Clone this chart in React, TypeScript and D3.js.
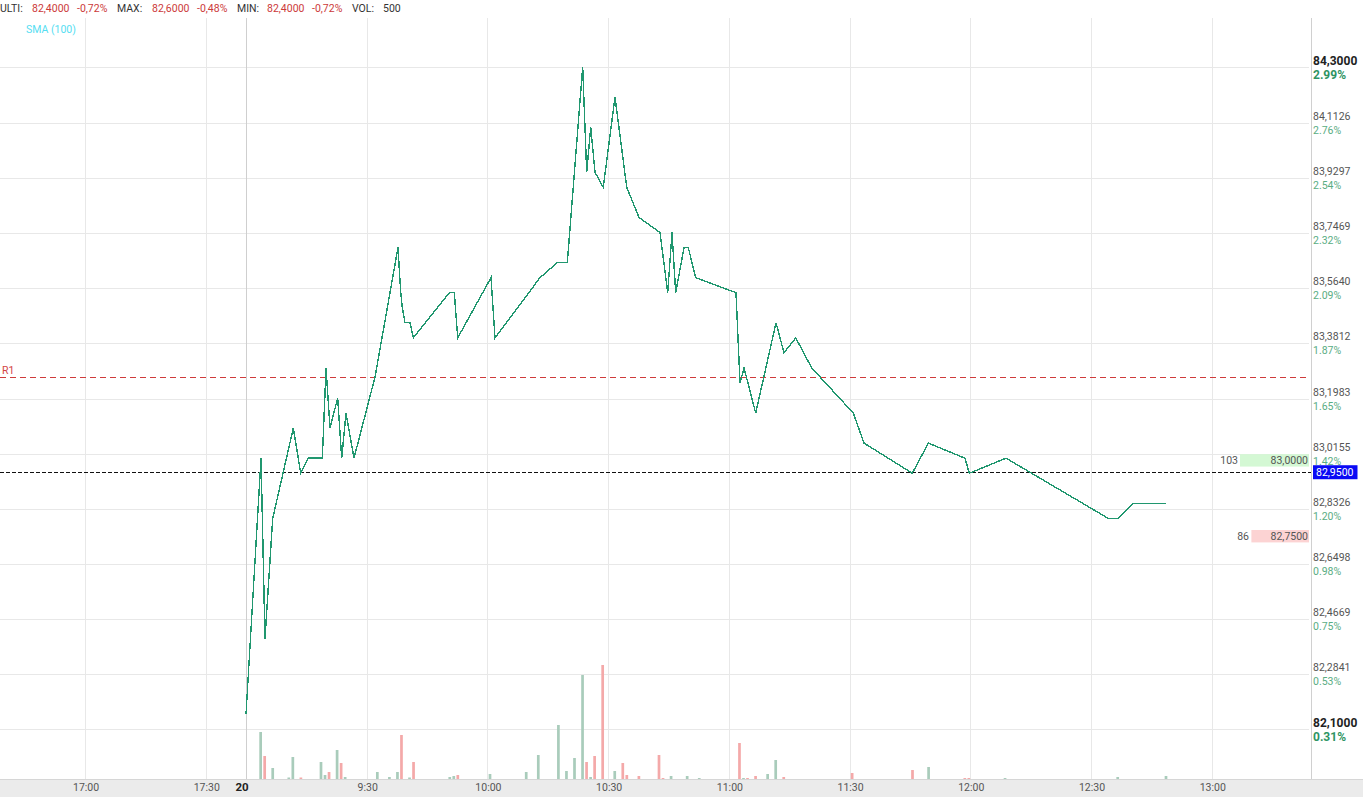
import React, { useEffect } from 'react';
import * as d3 from 'd3';

// ---------- data ----------
const priceTimes = [
  '9:00:00', '9:03:44', '9:04:43', '9:06:38', '9:11:45', '9:13:36', '9:15:29', '9:18:58', '9:19:53', '9:20:52',
  '9:22:47', '9:23:47', '9:24:51', '9:26:50', '9:32:04', '9:37:46', '9:38:27', '9:38:51', '9:39:31', '9:40:45',
  '9:41:35', '9:50:31', '9:51:46', '9:52:37', '10:00:53', '10:01:53', '10:13:04', '10:17:22', '10:19:51', '10:23:40',
  '10:24:40', '10:25:40', '10:26:44', '10:28:47', '10:31:42', '10:34:37', '10:37:40', '10:42:53', '10:44:48', '10:45:52',
  '10:46:47', '10:48:51', '10:49:55', '10:51:45', '11:01:46', '11:02:46', '11:03:46', '11:06:40', '11:11:43', '11:13:42',
  '11:16:37', '11:20:35', '11:30:55', '11:33:35', '11:45:35', '11:49:34', '11:58:41', '11:59:45', '12:08:52', '12:34:17',
  '12:36:46', '12:40:30', '12:48:38',
];
const priceValues = [
  82.15, 83.0, 82.4, 82.8, 83.1, 82.95, 83.0, 83.0, 83.3, 83.1,
  83.2, 83.0, 83.15, 83.0, 83.27, 83.7, 83.55, 83.5, 83.45, 83.45,
  83.4, 83.55, 83.55, 83.4, 83.6, 83.4, 83.6, 83.65, 83.65, 84.3,
  83.95, 84.1, 83.95, 83.9, 84.2, 83.9, 83.8, 83.75, 83.55, 83.75,
  83.55, 83.7, 83.7, 83.6, 83.55, 83.25, 83.3, 83.15, 83.45, 83.35,
  83.4, 83.3, 83.15, 83.05, 82.95, 83.05, 83.0, 82.95, 83.0, 82.8,
  82.8, 82.85, 82.85,
];

const volTimes = [
  '9:03', '9:04', '9:06', '9:10', '9:11', '9:13', '9:18', '9:19', '9:20', '9:22',
  '9:23', '9:24', '9:32', '9:35', '9:37', '9:38', '9:40', '9:41', '9:50', '9:51',
  '9:52', '10:00', '10:09', '10:12', '10:17', '10:19', '10:21', '10:23', '10:24', '10:25',
  '10:26', '10:28', '10:31', '10:33', '10:34', '10:37', '10:42', '10:43', '10:45', '10:49',
  '10:52', '11:02', '11:03', '11:04', '11:06', '11:09', '11:11', '11:13', '11:30', '11:45',
  '11:49', '11:58', '11:59', '12:08', '12:36', '12:48',
];
const volValues = [
  4700, 2300, 1100, 150, 2200, 150, 1700, 400, 700, 2900,
  1600, 200, 700, 200, 700, 4400, 150, 1700, 200, 300,
  400, 500, 700, 2400, 5400, 800, 2100, 10400, 1700, 200,
  2300, 11400, 800, 1600, 400, 300, 2400, 100, 300, 300,
  100, 3600, 100, 100, 300, 500, 1900, 200, 600, 900,
  1200, 100, 100, 100, 200, 300,
];
const volUp = [
  1, 0, 1, 1, 1, 0, 1, 1, 0, 1,
  0, 1, 1, 1, 1, 0, 1, 0, 1, 1,
  0, 1, 1, 1, 1, 1, 1, 1, 0, 1,
  0, 0, 1, 0, 0, 0, 0, 0, 1, 1,
  1, 0, 1, 0, 0, 1, 1, 0, 0, 0,
  1, 0, 0, 1, 1, 1,
];

const yTicks = [84.3, 84.1126, 83.9297, 83.7469, 83.564, 83.3812, 83.1983, 83.0155, 82.8326, 82.6498, 82.4669, 82.2841, 82.1];
const yTickPct = ['2.99%', '2.76%', '2.54%', '2.32%', '2.09%', '1.87%', '1.65%', '1.42%', '1.20%', '0.98%', '0.75%', '0.53%', '0.31%'];
const xTickTimes = ['17:00', '17:30', '9:30', '10:00', '10:30', '11:00', '11:30', '12:00', '12:30', '13:00'];
const dayLabel = '20';
const dayStart = '9:00';

const r1Value = 83.27;
const lastPrice = 82.95;
const askPrice = 83.0;
const askSize = 103;
const bidPrice = 82.75;
const bidSize = 86;

const headerLabels = ['ULTI:', 'MAX:', 'MIN:', 'VOL:'];
const headerValues = ['82,4000', '82,6000', '82,4000', '500'];
const headerPcts = ['-0,72%', '-0,48%', '-0,72%', ''];

// ---------- layout ----------
const W = 1363;
const H = 797;
const PLOT_RIGHT = 1311;
const PLOT_TOP = 18;
const PLOT_BOTTOM = 779;
const FONT = 'Roboto, "Noto Sans", sans-serif';

const headerLabelX = [0, 117, 237, 352];
const headerValueX = [32, 152, 267, 383];
const headerPctX = [77, 197, 312, 0];

function toMin(t: string): number {
  const p = t.split(':').map(Number);
  const mins = p[0] * 60 + p[1] + (p[2] || 0) / 60;
  return p[0] >= 15 ? mins - (17 * 60 + 40) : mins - 9 * 60;
}

const fmt = (v: number) => d3.format('.4f')(v).replace('.', ',');

export default function App() {
  useEffect(() => {
    document.body.style.margin = '0';
  }, []);

  const x = d3.scaleLinear().domain([-61.14, 264.67]).range([0, PLOT_RIGHT]);
  const y = d3.scaleLinear().domain([82.1, 84.3]).range([729, 67]);
  const vy = d3.scaleLinear().domain([0, 10000]).range([PLOT_BOTTOM, PLOT_BOTTOM - 100]);
  const sizeW = d3.scaleLinear().domain([0, askSize]).range([0, 69]);

  const pts = priceTimes.map((t, i) => [x(toMin(t)), y(priceValues[i])] as [number, number]);
  const linePath = d3.line().curve(d3.curveLinear)(pts) || '';

  const gridColor = '#e8e8e8';

  return (
    <svg width={W} height={H} style={{ position: 'absolute', left: 0, top: 0, background: '#fff' }} fontFamily={FONT}>
      <rect x={0} y={0} width={W} height={H} fill="#fff" />

      {/* horizontal grid */}
      {yTicks.map((v, i) => (
        <line key={'hg' + i} x1={0} x2={1309} y1={Math.round(y(v)) + 0.5} y2={Math.round(y(v)) + 0.5} stroke={gridColor} strokeWidth={1} />
      ))}
      {/* vertical grid */}
      {xTickTimes.map((t, i) => (
        <line key={'vg' + i} x1={Math.round(x(toMin(t))) + 0.5} x2={Math.round(x(toMin(t))) + 0.5} y1={PLOT_TOP} y2={PLOT_BOTTOM} stroke={gridColor} strokeWidth={1} />
      ))}
      <line x1={Math.round(x(toMin(dayStart))) + 0.5} x2={Math.round(x(toMin(dayStart))) + 0.5} y1={PLOT_TOP} y2={PLOT_BOTTOM} stroke="#cfcfcf" strokeWidth={1} />

      {/* volume bars */}
      {volTimes.map((t, i) => (
        <rect key={'v' + i} x={x(toMin(t) + 0.3)} width={2.7} y={vy(volValues[i])} height={PLOT_BOTTOM - vy(volValues[i])}
          fill={volUp[i] ? '#a9ccbb' : '#f4a9a9'} />
      ))}

      {/* R1 line */}
      <line x1={0} x2={1306} y1={Math.round(y(r1Value)) + 0.5} y2={Math.round(y(r1Value)) + 0.5} stroke="#cf3b3b" strokeWidth={1} strokeDasharray="6,4" />
      <text x={2} y={374} fontSize={10.5} fill="#d24545">R1</text>

      {/* last price line */}
      <line x1={0} x2={1311} y1={Math.round(y(lastPrice)) - 0.5} y2={Math.round(y(lastPrice)) - 0.5} stroke="#111" strokeWidth={1} strokeDasharray="4,2" />

      {/* price line */}
      <path d={linePath} fill="none" stroke="#20976f" strokeWidth={1.4} shapeRendering="crispEdges" strokeLinejoin="miter" />

      {/* order book boxes */}
      <rect x={1309 - sizeW(askSize)} y={y(askPrice) - 4} width={sizeW(askSize)} height={12.4} fill="#d4f8d4" />
      <text x={1308} y={y(askPrice) + 5.6} fontSize={10.5} fill="#555" textAnchor="end">{fmt(askPrice)}</text>
      <text x={1238} y={y(askPrice) + 5.6} fontSize={10.5} fill="#555" textAnchor="end">{askSize}</text>
      <rect x={1309 - sizeW(bidSize)} y={y(bidPrice) - 3.4} width={sizeW(bidSize)} height={12.4} fill="#fcd3d3" />
      <text x={1308} y={y(bidPrice) + 6.2} fontSize={10.5} fill="#555" textAnchor="end">{fmt(bidPrice)}</text>
      <text x={1249} y={y(bidPrice) + 6.2} fontSize={10.5} fill="#555" textAnchor="end">{bidSize}</text>

      {/* right axis */}
      <line x1={PLOT_RIGHT + 0.5} x2={PLOT_RIGHT + 0.5} y1={PLOT_TOP} y2={PLOT_BOTTOM} stroke="#d0d0d0" strokeWidth={1} />
      {yTicks.map((v, i) => {
        const yy = y(v);
        const strong = i === 0 || i === yTicks.length - 1;
        return (
          <g key={'yl' + i}>
            <text x={1313} y={yy - (strong ? 2 : 3)} fontSize={strong ? 12 : 10.5} fontWeight={strong ? 'bold' : 'normal'} fill={strong ? '#222' : '#555'}>{fmt(v)}</text>
            <text x={1313} y={yy + (strong ? 12 : 11)} fontSize={strong ? 12 : 10.5} fontWeight={strong ? 'bold' : 'normal'} fill={strong ? '#2e9463' : '#5aad83'}>{yTickPct[i]}</text>
          </g>
        );
      })}
      <rect x={1313} y={y(lastPrice) - 8} width={44.5} height={14} fill="#0a0af5" />
      <text x={1316} y={y(lastPrice) + 3} fontSize={10.5} fill="#fff">{fmt(lastPrice)}</text>

      {/* bottom axis band */}
      <rect x={0} y={PLOT_BOTTOM} width={W} height={H - PLOT_BOTTOM} fill="#ebebeb" />
      <line x1={0} x2={W} y1={PLOT_BOTTOM + 0.5} y2={PLOT_BOTTOM + 0.5} stroke="#d6d6d6" strokeWidth={1} />
      {xTickTimes.map((t, i) => (
        <text key={'xl' + i} x={x(toMin(t)) + 1} y={791} fontSize={10.5} fill="#555" textAnchor="middle">{t}</text>
      ))}
      <text x={242} y={791} fontSize={11.5} fontWeight="bold" fill="#222" textAnchor="middle">{dayLabel}</text>

      {/* header */}
      {headerLabels.map((l, i) => (
        <g key={'h' + i}>
          <text x={headerLabelX[i]} y={12} fontSize={10.5} fill="#333">{l}</text>
          <text x={headerValueX[i]} y={12} fontSize={10.5} fill={i === 3 ? '#333' : '#cc3a3a'}>{headerValues[i]}</text>
          {headerPcts[i] && <text x={headerPctX[i]} y={12} fontSize={10.5} fill="#cc3a3a">{headerPcts[i]}</text>}
        </g>
      ))}
      <text x={26} y={33} fontSize={10.5} fill="#55def2">SMA (100)</text>
    </svg>
  );
}
